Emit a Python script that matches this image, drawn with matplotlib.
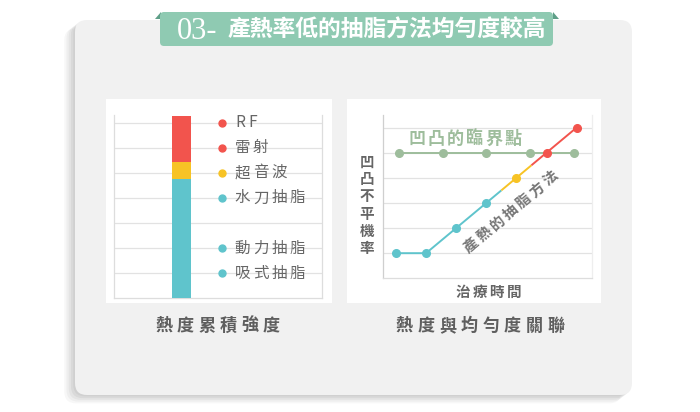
import matplotlib
matplotlib.use('Agg')
import matplotlib.pyplot as plt
from matplotlib.patches import FancyBboxPatch, Polygon
import numpy as np

plt.rcParams['font.family'] = ['Noto Sans CJK TC', 'DejaVu Sans']

# ---------------- data ----------------
title_num = "03-"
title_text = "產熱率低的抽脂方法均勻度較高"

# left chart: accumulated heat (stacked bar)
bar_segments = ["低產熱", "中產熱", "高產熱"]
bar_values = [4.77, 0.65, 1.86]
bar_colors = ["#5fc4cc", "#f7c325", "#f2544d"]
legend_labels = ["RF", "雷射", "超音波", "水刀抽脂", "動力抽脂", "吸式抽脂"]
legend_levels = [7, 6, 5, 4, 2, 1]
legend_colors = ["#f2544d", "#f2544d", "#f7c325", "#5fc4cc", "#5fc4cc", "#5fc4cc"]
left_caption = "熱度累積強度"

# right chart: heat vs unevenness
time_pts = [0, 1, 2, 3, 4, 5, 6]
uneven_vals = [1, 1, 2, 3, 4, 5, 6]
point_colors = ["#5fc4cc", "#5fc4cc", "#5fc4cc", "#5fc4cc", "#f7c325", "#f2544d", "#f2544d"]
seg_bounds = [(0, 3.5, "#5fc4cc"), (3.5, 4.5, "#f7c325"), (4.5, 6, "#f2544d")]
threshold_x = [0.1, 1.55, 3.0, 4.45, 5.9]
threshold_y = 5
threshold_label = "凹凸的臨界點"
method_label = "產熱的抽脂方法"
y_label = "凹凸不平機率"
x_label = "治療時間"
right_caption = "熱度與均勻度關聯"

GREY = "#666666"
GREEN = "#9ebd9c"
GRID = "#e2e2e2"

W, H = 700, 412
fig = plt.figure(figsize=(7, 4.12), dpi=100)
fig.patch.set_facecolor("white")

ov = fig.add_axes([0, 0, 1, 1], zorder=0)
ov.set_xlim(0, W)
ov.set_ylim(H, 0)
ov.axis("off")


def spaced(ax, cx, cy, s, step, transform=None, **kw):
    n = len(s)
    x0 = cx - (n - 1) * step / 2
    for i, ch in enumerate(s):
        ax.text(x0 + i * step, cy, ch, ha="center", va="center",
                transform=transform if transform is not None else ax.transData, **kw)


# ---------- card with shadow ----------
for i, a in enumerate([0.045, 0.045, 0.04, 0.035, 0.03]):
    d = 2 + i * 2.5
    ov.add_patch(FancyBboxPatch((75 - d * 0.9, 20 + d * 0.7), 557, 375,
                                boxstyle="round,pad=0,rounding_size=12",
                                fc="#000000", ec="none", alpha=a))
ov.add_patch(FancyBboxPatch((75, 20), 557, 375,
                            boxstyle="round,pad=0,rounding_size=12",
                            fc="#f1f1f1", ec="none"))

# ---------- title ribbon ----------
ov.add_patch(Polygon([[155, 19], [161, 12], [161, 19]], closed=True, fc="#5e9f88", ec="none"))
ov.add_patch(Polygon([[559, 19], [553, 12], [553, 19]], closed=True, fc="#5e9f88", ec="none"))
ov.add_patch(FancyBboxPatch((160, 12), 393, 34,
                            boxstyle="round,pad=0,rounding_size=4",
                            fc="#8fcab2", ec="none"))
ov.text(177, 31, title_num, ha="left", va="center", color="white",
        fontsize=22, family=["Liberation Serif", "DejaVu Serif"])
ov.text(546, 30, title_text, ha="right", va="center", color="white",
        fontsize=16.4, fontweight="bold")

# ---------- white panels ----------
ov.add_patch(FancyBboxPatch((106, 99), 226, 204, boxstyle="square,pad=0", fc="white", ec="none"))
ov.add_patch(FancyBboxPatch((347, 99), 254, 204, boxstyle="square,pad=0", fc="white", ec="none"))

# captions
spaced(ov, 217.5, 326, left_caption, 21.5, fontsize=12.3, fontweight="bold", color="#5e5e5e")
spaced(ov, 480, 326, right_caption, 21.7, fontsize=12.3, fontweight="bold", color="#5e5e5e")


def px_axes(x0, y0, x1, y1, z=2):
    return fig.add_axes([x0 / W, (H - y1) / H, (x1 - x0) / W, (y1 - y0) / H], zorder=z)


# ---------- left chart ----------
axL = px_axes(114, 115, 321.7, 298.3)
axL.set_facecolor("none")
axL.set_xlim(0, 1)
axL.set_ylim(0, 7.3)
for yv in range(1, 8):
    axL.axhline(yv, color=GRID, lw=0.9, zorder=1)
bottom = 0
for v, c in zip(bar_values, bar_colors):
    axL.bar(0.326, v, width=0.09, bottom=bottom, color=c, zorder=3)
    bottom += v
axL.spines["top"].set_visible(False)
for sp in ["left", "right", "bottom"]:
    axL.spines[sp].set_color("#dddddd")
    axL.spines[sp].set_linewidth(0.9)
axL.set_xticks([])
axL.set_yticks([])
for lab, lev, c in zip(legend_labels, legend_levels, legend_colors):
    axL.plot([0.521], [lev], "o", color=c, ms=5, zorder=4, clip_on=False)
    step = 12 / 207.7 if lab.isascii() else 18.5 / 207.7
    cw = 6 / 207.7 if lab.isascii() else 7.7 / 207.7
    x0 = 0.580 + cw
    for i, ch in enumerate(lab):
        axL.text(x0 + i * step, lev, ch, ha="center", va="center",
                 fontsize=11.2, color=GREY, zorder=4)

# ---------- right chart ----------
axR = px_axes(383.3, 115, 591.7, 278.3)
axR.set_facecolor("none")
axR.set_xlim(-0.42, 6.5)
axR.set_ylim(0, 6.5)
for yv in range(1, 7):
    axR.axhline(yv, color=GRID, lw=0.9, zorder=1)
axR.spines["top"].set_visible(False)
axR.spines["left"].set_color("#cfcfcf")
axR.spines["bottom"].set_color("#dddddd")
axR.spines["right"].set_color("#eeeeee")
for sp in ["left", "bottom", "right"]:
    axR.spines[sp].set_linewidth(0.9)
axR.set_xticks([])
axR.set_yticks([])

# threshold line
axR.plot(threshold_x, [threshold_y] * len(threshold_x), "-", color=GREEN, lw=1.4, zorder=2)
axR.plot(threshold_x, [threshold_y] * len(threshold_x), "o", color=GREEN, ms=5.5, zorder=2)
spaced(axR, (465 - 396) / 30.1, (278.3 - 139.3) / 25.1, threshold_label, 19.2 / 30.1,
       fontsize=12.3, fontweight="bold", color=GREEN, zorder=2)

# heat line segments
tx = np.array(time_pts, dtype=float)
ty = np.array(uneven_vals, dtype=float)
for a, b, c in seg_bounds:
    xs = [a] + [t for t in tx if a < t < b] + [b]
    ys = np.interp(xs, tx, ty)
    axR.plot(xs, ys, "-", color=c, lw=1.4, zorder=3, solid_capstyle="butt")
for t, u, c in zip(tx, ty, point_colors):
    axR.plot([t], [u], "o", color=c, ms=5.5, zorder=4)

# rotated method label
ang = 40.5
cx, cy = 510.7, 211.5
step = 17.2
dx, dy = np.cos(np.radians(ang)), -np.sin(np.radians(ang))
n = len(method_label)
for i, ch in enumerate(method_label):
    k = i - (n - 1) / 2
    axR.text(cx + k * step * dx, cy + k * step * dy, ch, rotation=ang,
             rotation_mode="anchor", ha="center", va="center",
             fontsize=10.5, fontweight="bold", color="#777777",
             transform=ov.transData, zorder=5)

# axis labels
for i, ch in enumerate(y_label):
    axR.text(366.7, 161.7 + i * 17.3, ch, ha="center", va="center", fontsize=10.5,
             fontweight="bold", color=GREY, transform=ov.transData)
spaced(axR, 488.3, 291.5, x_label, 17, transform=ov.transData,
       fontsize=10.5, fontweight="bold", color=GREY)

fig.savefig("out.png", dpi=100, facecolor="white")
